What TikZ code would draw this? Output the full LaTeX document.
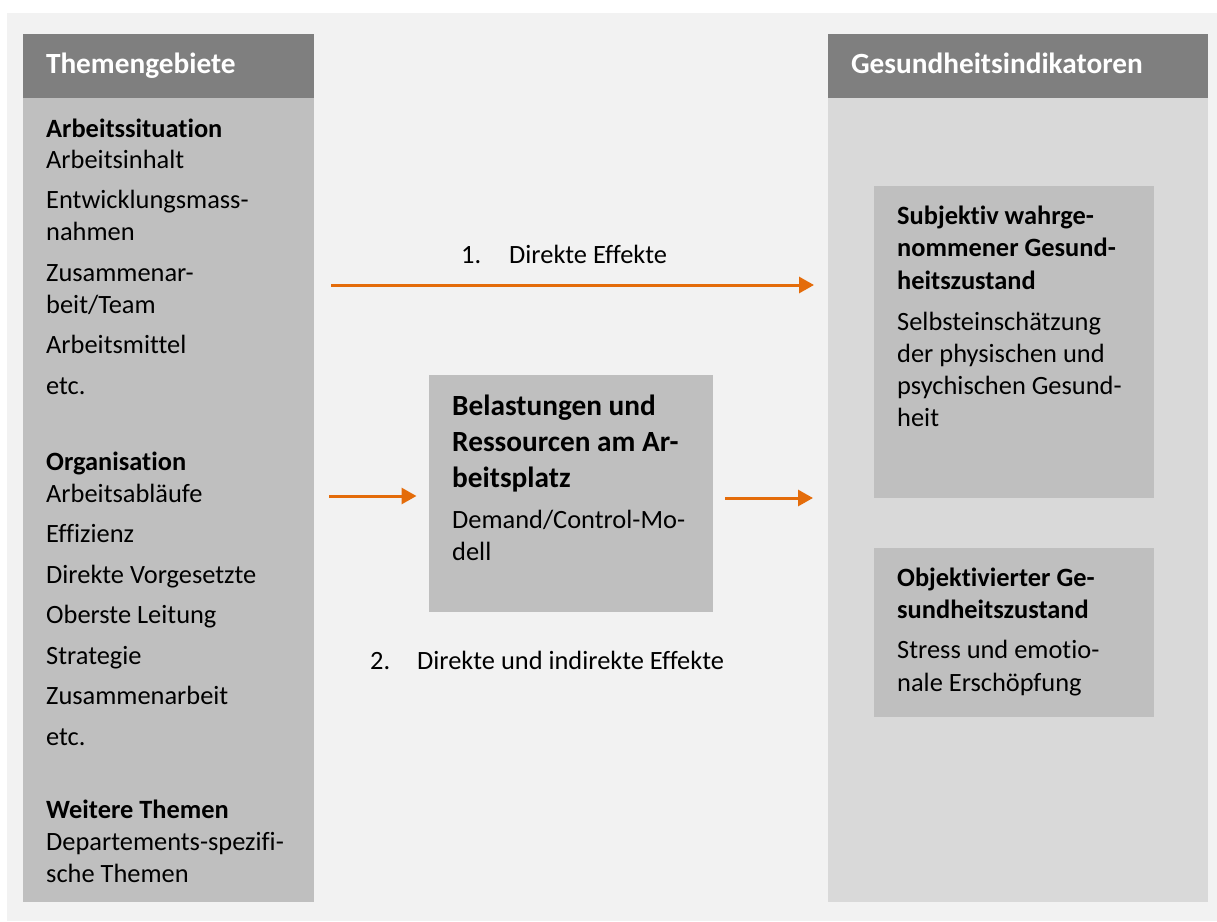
\documentclass[tikz,border=0pt]{standalone}
\usepackage{fontspec}
\setmainfont{Carlito}[Ligatures=NoCommon]
\usepackage{xcolor}
\usepackage{tikz}
\usetikzlibrary{arrows.meta,positioning,calc}
\definecolor{pagegray}{HTML}{F2F2F2}
\definecolor{headgray}{HTML}{7F7F7F}
\definecolor{boxgray}{HTML}{BFBFBF}
\definecolor{panelgray}{HTML}{D9D9D9}
\definecolor{effectorange}{HTML}{E46C0A}
\newcommand{\txtbody}{\fontsize{26.4}{32}\selectfont}
\newcommand{\txthead}{\fontsize{29.3}{36}\selectfont\bfseries}
\tikzset{
  panel/.style={rectangle, anchor=north west, inner sep=0pt, outer sep=0pt},
  colhead/.style={panel, fill=headgray, text=white, font=\txthead, align=flush left, inner xsep=23pt, inner ysep=0pt, text height=39pt, text depth=25pt},
  colbody/.style={panel},
  innerbox/.style={panel, fill=boxgray},
  textblock/.style={anchor=base west, inner sep=0pt, font=\txtbody, align=flush left, text width=300pt},
  titleblock/.style={textblock, font=\txthead},
  effectlabel/.style={anchor=base west, inner sep=0pt, font=\txtbody},
  effect/.style={draw=effectorange, line width=3pt, -{Triangle[length=15pt,width=16pt]}}
}

\begin{document}
\begin{tikzpicture}[x=1pt,y=-1pt]
  \useasboundingbox[fill=white] (0,0) rectangle (1217,921);
  \fill[pagegray] (7,13) rectangle (1217,921);

  % columns
  \node[colbody, fill=boxgray, minimum width=291pt, minimum height=804pt] (themenbody) at (23,98) {};
  \node[colhead, text width=245pt] (themenhead) at (23,34) {Themengebiete};
  \node[colbody, fill=panelgray, minimum width=380pt, minimum height=804pt] (gesundbody) at (828,98) {};
  \node[colhead, text width=334pt] (gesundhead) at (828,34) {Gesundheitsindikatoren};

  % boxes
  \node[innerbox, minimum width=284pt, minimum height=237pt] (belast) at (429,375) {};
  \node[innerbox, minimum width=280pt, minimum height=312pt] (subj) at (874,186) {};
  \node[innerbox, minimum width=280pt, minimum height=169pt] (obj) at (874,548) {};

  % left column text
  \node[textblock] (arbeit) at (46,137) {\textbf{Arbeitssituation}\\[-1pt]
    Arbeitsinhalt\\[8.5pt]
    Entwicklungsmass-\\ nahmen\\[8.5pt]
    Zusammenar-\\ beit/Team\\[8.5pt]
    Arbeitsmittel\\[8.5pt]
    etc.};
  \node[textblock] (orga) at (46,470) {\textbf{Organisation}\\
    Arbeitsabläufe\\[8.5pt]
    Effizienz\\[8.5pt]
    Direkte Vorgesetzte\\[8.5pt]
    Oberste Leitung\\[8.5pt]
    Strategie\\[8.5pt]
    Zusammenarbeit\\[8.5pt]
    etc.};
  \node[textblock] (weitere) at (46,818) {\textbf{Weitere Themen}\\
    Departements-spezifi-\\ sche Themen};

  % middle box text
  \node[titleblock] (belasttitle) at (452,415) {Belastungen und\\ Ressourcen am Ar-\\ beitsplatz};
  \node[textblock] (belasttext) at (452,528) {Demand/Control-Mo-\\ dell};

  % right column text
  \node[textblock] (subjtext) at (897,224) {\textbf{Subjektiv wahrge-}\\[0.5pt]
    \textbf{nommener Gesund-}\\[0.5pt]
    \textbf{heitszustand}\\[9pt]
    Selbsteinschätzung\\ der physischen und\\ psychischen Gesund-\\ heit};
  \node[textblock] (objtext) at (897,586) {\textbf{Objektivierter Ge-}\\
    \textbf{sundheitszustand}\\[8pt]
    Stress und emotio-\\[1pt] nale Erschöpfung};

  % effects
  \node[effectlabel] (directlabel) at (461,263) {\makebox[48pt][l]{1.}Direkte Effekte};
  \node[effectlabel] (indirectlabel) at (370,669) {\makebox[47pt][l]{2.}Direkte und indirekte Effekte};

  \coordinate (directrow) at (0,285);
  \coordinate (inrow) at (0,496);
  \coordinate (outrow) at (0,498);
  \draw[effect, shorten <=17pt, shorten >=14pt] (themenbody.east |- directrow) -- (gesundbody.west |- directrow);
  \draw[effect, shorten <=15pt, shorten >=12.5pt] (themenbody.east |- inrow) -- (belast.west |- inrow);
  \draw[effect, shorten <=12pt, shorten >=15pt] (belast.east |- outrow) -- (gesundbody.west |- outrow);
\end{tikzpicture}
\end{document}
